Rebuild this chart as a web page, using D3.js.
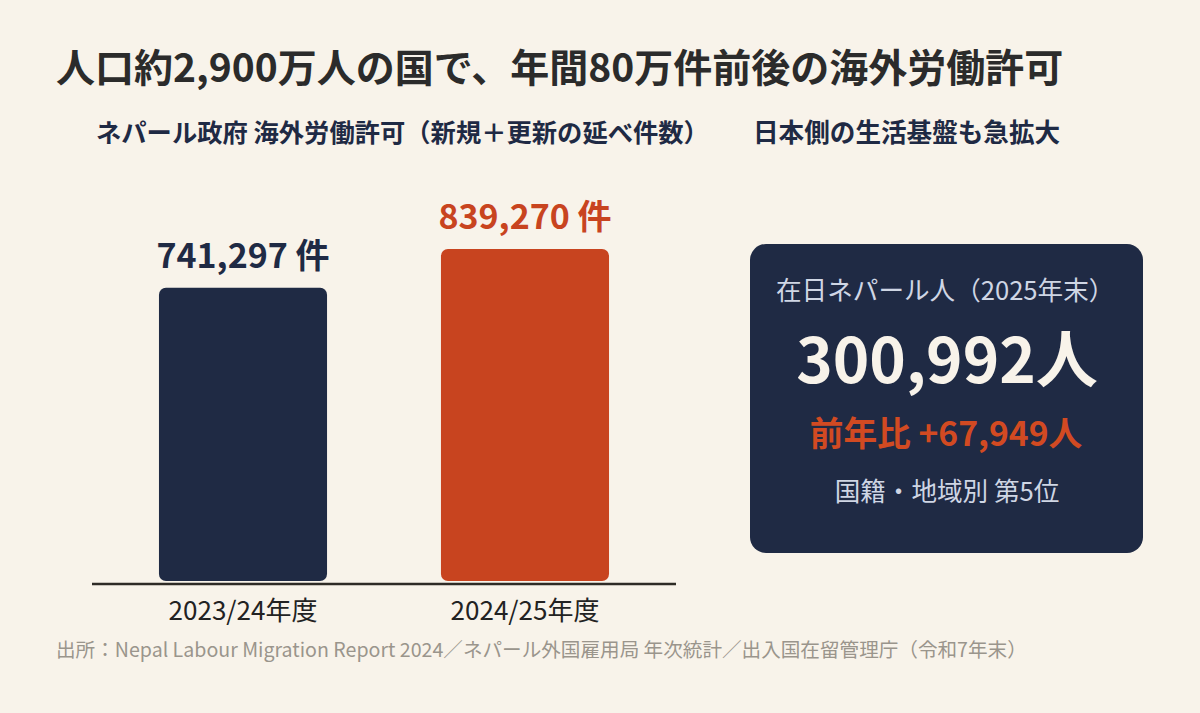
<!DOCTYPE html>
<html><head><meta charset="utf-8">
<script src="https://cdn.jsdelivr.net/npm/d3@7"></script>
<style>
html,body{margin:0;padding:0;background:#f8f3ea;}
svg{display:block;font-family:"Noto Sans CJK JP","Noto Sans",sans-serif;}
</style></head><body>
<svg id="c" width="1200" height="713"></svg>
<script>
const categories = ["2023/24年度", "2024/25年度"];
const permits = [741297, 839270];
const permitLabels = ["741,297 件", "839,270 件"];
const barColors = ["#1f2a44", "#c8441f"];
const title = "人口約2,900万人の国で、年間80万件前後の海外労働許可";
const subtitleLeft = "ネパール政府 海外労働許可（新規＋更新の延べ件数）";
const subtitleRight = "日本側の生活基盤も急拡大";
const cardLines = ["在日ネパール人（2025年末）", "300,992人", "前年比 +67,949人", "国籍・地域別 第5位"];
const source = "出所：Nepal Labour Migration Report 2024／ネパール外国雇用局 年次統計／出入国在留管理庁（令和7年末）";

const svg = d3.select("#c");
svg.append("rect").attr("width",1200).attr("height",713).attr("fill","#f8f3ea");

svg.append("text").attr("x",56).attr("y",82).attr("font-size",39).attr("font-weight",700)
  .attr("fill","#2b2b2b").text(title);
svg.append("text").attr("x",96).attr("y",142).attr("font-size",25.3).attr("font-weight",700)
  .attr("fill","#1f2a44").text(subtitleLeft);
svg.append("text").attr("x",753).attr("y",142).attr("font-size",25.6).attr("font-weight",700)
  .attr("fill","#1f2a44").text(subtitleRight);

const x = d3.scaleBand().domain(categories).range([92,676]).paddingInner(0.404).paddingOuter(0.2375);
const y = d3.scaleLinear().domain([0,1000000]).range([581,185.4]);

const g = svg.append("g");
g.selectAll("rect.bar").data(categories).join("rect").attr("class","bar")
  .attr("x",d=>x(d)).attr("width",x.bandwidth())
  .attr("y",(d,i)=>y(permits[i])).attr("height",(d,i)=>y(0)-y(permits[i]))
  .attr("rx",7).attr("fill",(d,i)=>barColors[i]);

g.selectAll("text.val").data(categories).join("text").attr("class","val")
  .attr("x",d=>x(d)+x.bandwidth()/2).attr("y",(d,i)=>y(permits[i])-20)
  .attr("text-anchor","middle").attr("font-size",34).attr("font-weight",700)
  .attr("fill",(d,i)=>barColors[i]).text((d,i)=>permitLabels[i]);

const axis = d3.axisBottom(x).tickSize(0).tickPadding(14);
const ag = svg.append("g").attr("transform","translate(0,584)").call(axis);
ag.select(".domain").remove();
ag.append("line").attr("x1",92).attr("x2",676).attr("y1",0).attr("y2",0)
  .attr("stroke","#2e2b26").attr("stroke-width",2.5);
ag.selectAll(".tick text").attr("font-size",26).attr("fill","#222").attr("font-family","\"Noto Sans CJK JP\",sans-serif").attr("dy","0.85em");

// card
const card = svg.append("g");
card.append("rect").attr("x",750).attr("y",244).attr("width",393).attr("height",309).attr("rx",16).attr("fill","#1f2a44");
card.append("text").attr("x",776).attr("y",300).attr("font-size",25.6).attr("fill","#cfd6e4").text(cardLines[0]);
card.append("text").attr("x",947).attr("y",383).attr("text-anchor","middle").attr("font-size",62).attr("font-weight",700).attr("fill","#f8f3ea").text(cardLines[1]);
card.append("text").attr("x",946).attr("y",446).attr("text-anchor","middle").attr("font-size",33.7).attr("font-weight",700).attr("fill","#d24a22").text(cardLines[2]);
card.append("text").attr("x",947).attr("y",501).attr("text-anchor","middle").attr("font-size",25.6).attr("fill","#cfd6e4").text(cardLines[3]);

svg.append("text").attr("x",56).attr("y",657).attr("font-size",19.6).attr("fill","#9a958c").text(source);
</script></body></html>
